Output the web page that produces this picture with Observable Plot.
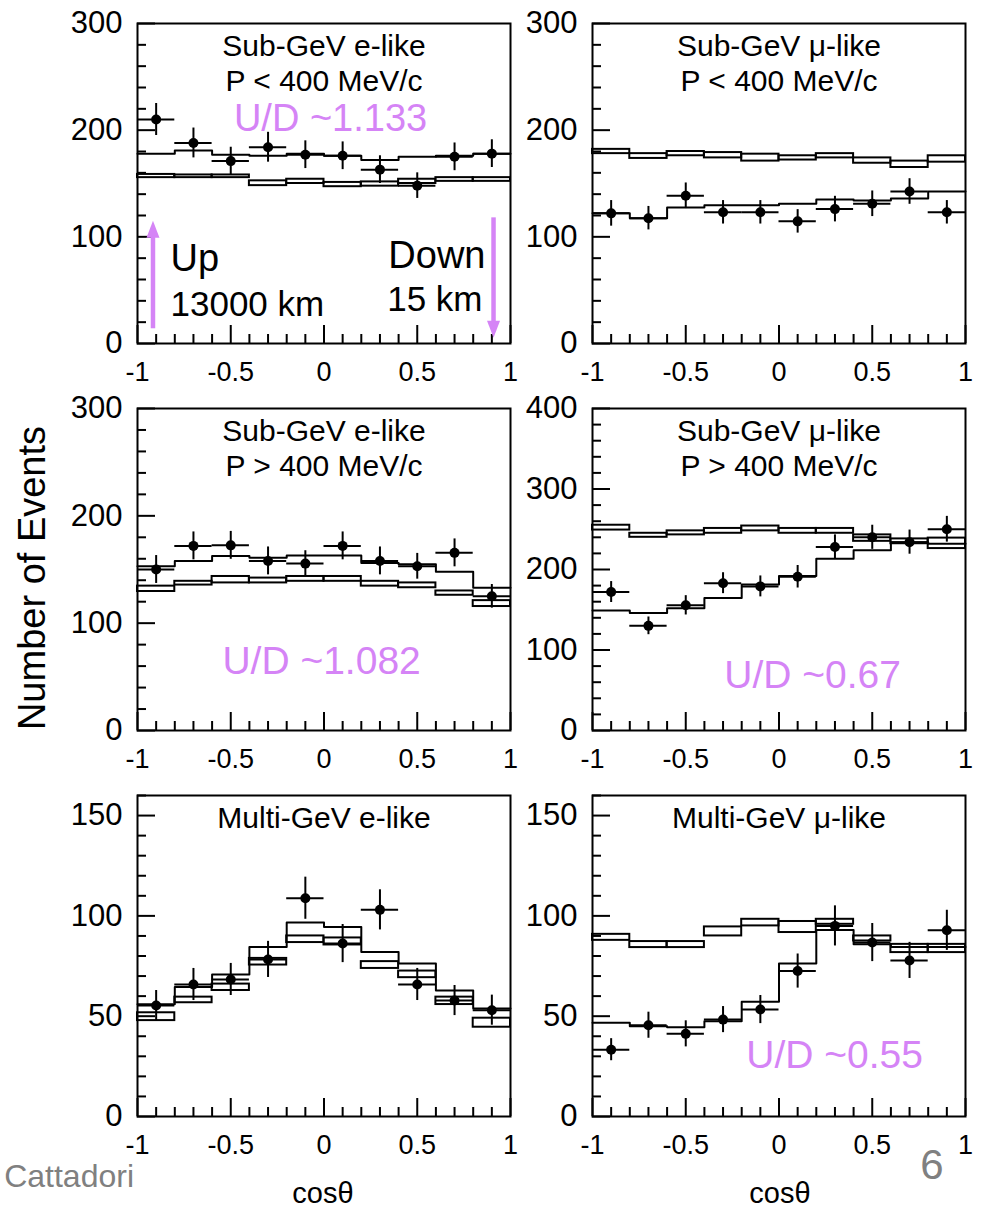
<!DOCTYPE html>
<html><head><meta charset="utf-8">
<script src="https://cdn.jsdelivr.net/npm/d3@7"></script>
<script src="https://cdn.jsdelivr.net/npm/@observablehq/plot@0.6"></script>
<style>
body{margin:0;background:#fff;}
#root{position:relative;width:988px;height:1210px;overflow:hidden;font-family:"Liberation Sans",Arial,Helvetica,sans-serif;background:#fff;}
.pl{position:absolute;}
.pl svg{overflow:visible;}
.lab{position:absolute;white-space:nowrap;line-height:1;}
</style></head><body><div id="root"></div>
<script>
// ---------- shared binning / ticks ----------
const binCenters = [-0.9, -0.7, -0.5, -0.3, -0.1, 0.1, 0.3, 0.5, 0.7, 0.9];
const binHalfWidth = 0.1;
const xTickLabels = [-1, -0.5, 0, 0.5, 1];

// ---------- Panel 1: Sub-GeV e-like P<400 ----------
const p1Title = "Sub-GeV e-like\nP < 400 MeV/c";
const p1Data  = [210, 188, 171, 184, 177, 176, 163, 148, 175, 178];
const p1Err   = [15, 14, 13, 14, 13, 13, 13, 12, 13, 13];
const p1Line  = [178, 181, 177, 176, 178, 176, 172, 175, 176, 178];
const p1BoxLo = [155.5, 155.5, 155.5, 148, 150, 147, 147.5, 150, 152, 152];
const p1BoxHi = [158.5, 158, 158, 152.5, 154, 151, 151.5, 154, 155.5, 155.5];
const p1YTicks = [0, 100, 200, 300];

// ---------- Panel 2: Sub-GeV mu-like P<400 ----------
const p2Title = "Sub-GeV \u03bc-like\nP < 400 MeV/c";
const p2Data  = [122, 117.5, 138.5, 123, 123, 114.5, 126, 131, 142.5, 123];
const p2Err   = [12, 11, 12, 11, 11, 11, 12, 12, 12, 11];
const p2Line  = [122, 117.5, 127.5, 129.5, 129.5, 131, 135, 134, 136, 142.5];
const p2BoxLo = [178, 173.5, 176, 174, 171, 172, 174, 169, 165, 170];
const p2BoxHi = [182, 178, 180, 179, 177.5, 176, 178, 174, 171, 176];
const p2YTicks = [0, 100, 200, 300];

// ---------- Panel 3: Sub-GeV e-like P>400 ----------
const p3Title = "Sub-GeV e-like\nP > 400 MeV/c";
const p3Data  = [150, 172, 172.5, 158, 155.5, 172, 158, 153, 165.5, 125];
const p3Err   = [13, 13, 13, 13, 12, 13, 13, 12, 13, 11];
const p3Line  = [153, 158, 162.5, 161, 163, 163, 156, 155, 148, 133];
const p3BoxLo = [129.5, 135.5, 137.5, 137.5, 139, 139, 134.5, 133, 126, 115.5];
const p3BoxHi = [134.5, 139, 143.5, 142, 143.5, 143.5, 139, 137.5, 130, 121];
const p3YTicks = [0, 100, 200, 300];

// ---------- Panel 4: Sub-GeV mu-like P>400 ----------
const p4Title = "Sub-GeV \u03bc-like\nP > 400 MeV/c";
const p4Data  = [172, 130, 155.5, 183, 179, 191, 228, 240, 234, 250];
const p4Err   = [13, 11, 12, 13, 13, 14, 15, 15, 15, 16];
const p4Line  = [149, 146, 152, 164.5, 181.5, 192, 213.5, 224, 234, 232];
const p4BoxLo = [249, 240, 243, 245, 248, 245, 245, 235, 232, 226];
const p4BoxHi = [255, 245, 248, 251, 254, 251, 251, 243, 238, 239];
const p4YTicks = [0, 100, 200, 300, 400];

// ---------- Panel 5: Multi-GeV e-like ----------
const p5Title = "Multi-GeV e-like";
const p5Data  = [55.3, 65.8, 68.3, 78.3, 108.8, 86.2, 103, 65.8, 57.8, 53];
const p5Err   = [7.5, 8, 8, 9, 10.5, 9.5, 10, 8, 7.5, 7.5];
const p5Line  = [56, 64.5, 70.8, 84.5, 96.7, 94.5, 82, 76.2, 62.8, 53.8];
const p5BoxLo = [47.8, 56.7, 62.8, 75.5, 86.7, 85.5, 73.8, 69.2, 55.8, 44.5];
const p5BoxHi = [51.7, 59.5, 66, 78.8, 90, 89, 77.2, 72.5, 59.5, 49];
const p5YTicks = [0, 50, 100, 150];

// ---------- Panel 6: Multi-GeV mu-like ----------
const p6Title = "Multi-GeV \u03bc-like";
const p6Data  = [33.3, 45.5, 41.2, 48.3, 53.3, 72.5, 95, 86.7, 77.8, 92.8];
const p6Err   = [5.5, 6.5, 6.5, 6.5, 7, 8.5, 10, 9.5, 9, 10];
const p6Line  = [46.7, 45, 44.5, 47.5, 57.2, 76.2, 93, 85.8, 84.5, 84.5];
const p6BoxLo = [87.8, 84.2, 84.2, 90, 95, 91.7, 95.8, 87.5, 81.7, 81.7];
const p6BoxHi = [90.8, 87.2, 87.2, 94.5, 98.3, 97.2, 98.3, 90, 85.8, 85.8];
const p6YTicks = [0, 50, 100, 150];

// ---------- annotations ----------
const ratioLabels = ["U/D ~1.133", "U/D ~1.082", "U/D ~0.67", "U/D ~0.55"];
const upLabel = ["Up", "13000 km"];
const downLabel = ["Down", "15 km"];

const violet = "#d584f6";
const fontFam = '"Liberation Sans", Arial, Helvetica, sans-serif';

const triUp = {draw(ctx, size) { const r = Math.sqrt(size / Math.PI); const w = r * 1.3, h = r * 3.4; ctx.moveTo(0, 0); ctx.lineTo(w, h); ctx.lineTo(-w, h); ctx.closePath(); }};
const triDown = {draw(ctx, size) { const r = Math.sqrt(size / Math.PI); const w = r * 1.3, h = r * 3.4; ctx.moveTo(0, 0); ctx.lineTo(w, -h); ctx.lineTo(-w, -h); ctx.closePath(); }};

const colGeom = [{left: 0, width: 530, ml: 137, mr: 20}, {left: 530, width: 458, ml: 62, mr: 23}];
const rowGeom = [{top: 23, bottom: 343}, {top: 408, bottom: 730}, {top: 795, bottom: 1116}];

const panels = [
  {title: p1Title, data: p1Data, err: p1Err, line: p1Line, lo: p1BoxLo, hi: p1BoxHi, yTicks: p1YTicks, yMax: 300, minorStep: 20, col: 0, row: 0,
   extra: [
     Plot.text([ratioLabels[0]], {x: () => 0.035, y: () => 199, text: d => d, fill: violet, fontSize: 38, lineAnchor: "bottom", textAnchor: "middle"}),
     Plot.ruleX([0], {x: () => -0.917, y1: () => 13.8, y2: () => 104, stroke: violet, strokeWidth: 4.5}),
     Plot.dot([0], {x: () => -0.917, y: () => 115, symbol: triUp, r: 5, fill: violet, stroke: "none"}),
     Plot.ruleX([0], {x: () => 0.909, y1: () => 117.8, y2: () => 16, stroke: violet, strokeWidth: 4.5}),
     Plot.dot([0], {x: () => 0.909, y: () => 5.3, symbol: triDown, r: 5, fill: violet, stroke: "none"}),
     Plot.text([upLabel[0]], {x: () => -0.823, y: () => 68.4, text: d => d, fontSize: 38, lineAnchor: "bottom", textAnchor: "start", fill: "black"}),
     Plot.text([upLabel[1]], {x: () => -0.823, y: () => 26.2, text: d => d, fontSize: 35, lineAnchor: "bottom", textAnchor: "start", fill: "black"}),
     Plot.text([downLabel[0]], {x: () => 0.866, y: () => 71.2, text: d => d, fontSize: 38, lineAnchor: "bottom", textAnchor: "end", fill: "black"}),
     Plot.text([downLabel[1]], {x: () => 0.85, y: () => 30.9, text: d => d, fontSize: 35, lineAnchor: "bottom", textAnchor: "end", fill: "black"})
   ]},
  {title: p2Title, data: p2Data, err: p2Err, line: p2Line, lo: p2BoxLo, hi: p2BoxHi, yTicks: p2YTicks, yMax: 300, minorStep: 20, col: 1, row: 0, extra: []},
  {title: p3Title, data: p3Data, err: p3Err, line: p3Line, lo: p3BoxLo, hi: p3BoxHi, yTicks: p3YTicks, yMax: 300, minorStep: 20, col: 0, row: 1,
   extra: [Plot.text([ratioLabels[1]], {x: () => -0.013, y: () => 53.1, text: d => d, fill: violet, fontSize: 39, lineAnchor: "bottom", textAnchor: "middle"})]},
  {title: p4Title, data: p4Data, err: p4Err, line: p4Line, lo: p4BoxLo, hi: p4BoxHi, yTicks: p4YTicks, yMax: 400, minorStep: 20, col: 1, row: 1,
   extra: [Plot.text([ratioLabels[2]], {x: () => 0.18, y: () => 53.4, text: d => d, fill: violet, fontSize: 39, lineAnchor: "bottom", textAnchor: "middle"})]},
  {title: p5Title, data: p5Data, err: p5Err, line: p5Line, lo: p5BoxLo, hi: p5BoxHi, yTicks: p5YTicks, yMax: 160, minorStep: 10, col: 0, row: 2, extra: []},
  {title: p6Title, data: p6Data, err: p6Err, line: p6Line, lo: p6BoxLo, hi: p6BoxHi, yTicks: p6YTicks, yMax: 160, minorStep: 10, col: 1, row: 2,
   extra: [Plot.text([ratioLabels[3]], {x: () => 0.298, y: () => 24.4, text: d => d, fill: violet, fontSize: 39, lineAnchor: "bottom", textAnchor: "middle"})]}
];

const root = document.getElementById("root");

function buildPanel(p) {
  const cg = colGeom[p.col], rg = rowGeom[p.row];
  const mt = 23, mb = 50;
  const height = mt + (rg.bottom - rg.top) + mb;
  const rows = binCenters.map((x, i) => ({x, x1: x - binHalfWidth, x2: x + binHalfWidth,
    v: p.data[i], e: p.err[i], lo: p.lo[i], hi: p.hi[i], m: p.line[i]}));
  const steps = rows.flatMap(r => [{x: r.x1, y: r.m}, {x: r.x2, y: r.m}]);
  const yMinor = d3.range(0, p.yMax + 0.001, p.minorStep).filter(v => !p.yTicks.includes(v));
  const xMinor = d3.range(-10, 11).map(k => k / 10).filter(v => !xTickLabels.includes(v));
  const svg = Plot.plot({
    width: cg.width, height,
    marginLeft: cg.ml, marginRight: cg.mr, marginTop: mt, marginBottom: mb,
    x: {domain: [-1, 1]},
    y: {domain: [0, p.yMax]},
    style: {fontFamily: fontFam, background: "transparent", color: "black", overflow: "visible"},
    marks: [
      Plot.rect(rows, {x1: "x1", x2: "x2", y1: "lo", y2: "hi", fill: "none", stroke: "black", strokeWidth: 2}),
      Plot.line(steps, {x: "x", y: "y", stroke: "black", strokeWidth: 2}),
      Plot.ruleX(rows, {x: "x", y1: d => d.v - d.e, y2: d => d.v + d.e, stroke: "black", strokeWidth: 2}),
      Plot.ruleY(rows, {y: "v", x1: "x1", x2: "x2", stroke: "black", strokeWidth: 2}),
      Plot.dot(rows, {x: "x", y: "v", r: 5, fill: "black", stroke: "none"}),
      Plot.axisY({ticks: p.yTicks, tickSize: 18, dx: 18, tickFormat: () => "", label: null, strokeWidth: 2}),
      Plot.axisY({ticks: yMinor, tickSize: 9, dx: 9, tickFormat: () => "", label: null, strokeWidth: 2}),
      Plot.axisY({ticks: p.yTicks, tickSize: 0, tickPadding: 15, fontSize: 31, label: null, tickFormat: d => String(d)}),
      Plot.axisX({ticks: xTickLabels, tickSize: 18, dy: -18, tickFormat: () => "", label: null, strokeWidth: 2}),
      Plot.axisX({ticks: xMinor, tickSize: 9, dy: -9, tickFormat: () => "", label: null, strokeWidth: 2}),
      Plot.axisX({ticks: xTickLabels, tickSize: 0, tickPadding: 18, fontSize: 27, label: null, tickFormat: d => String(d)}),
      Plot.frame({stroke: "black", strokeWidth: 2}),
      Plot.text([p.title], {frameAnchor: "top", dy: 8, lineAnchor: "top", fontSize: 30, lineHeight: 1.16, fill: "black"}),
      ...p.extra
    ]
  });
  const wrap = document.createElement("div");
  wrap.className = "pl";
  wrap.style.left = cg.left + "px";
  wrap.style.top = (rg.top - mt) + "px";
  wrap.appendChild(svg);
  root.appendChild(wrap);
}
panels.forEach(buildPanel);

function addLabel(text, left, top, css) {
  const d = document.createElement("div");
  d.className = "lab";
  d.textContent = text;
  d.style.left = left + "px";
  d.style.top = top + "px";
  Object.assign(d.style, css);
  root.appendChild(d);
}
addLabel("Number of Events", 32, 578, {fontSize: "38px", transform: "translate(-50%,-50%) rotate(-90deg)"});
addLabel("cos\u03b8", 323, 1193, {fontSize: "29px", transform: "translate(-50%,-50%)"});
addLabel("cos\u03b8", 780, 1193, {fontSize: "29px", transform: "translate(-50%,-50%)"});
addLabel("Cattadori", 134, 1176, {fontSize: "32px", color: "#808080", transform: "translate(-100%,-50%)"});
addLabel("6", 932, 1165, {fontSize: "42px", color: "#808080", transform: "translate(-50%,-50%)"});
</script>
</body></html>
